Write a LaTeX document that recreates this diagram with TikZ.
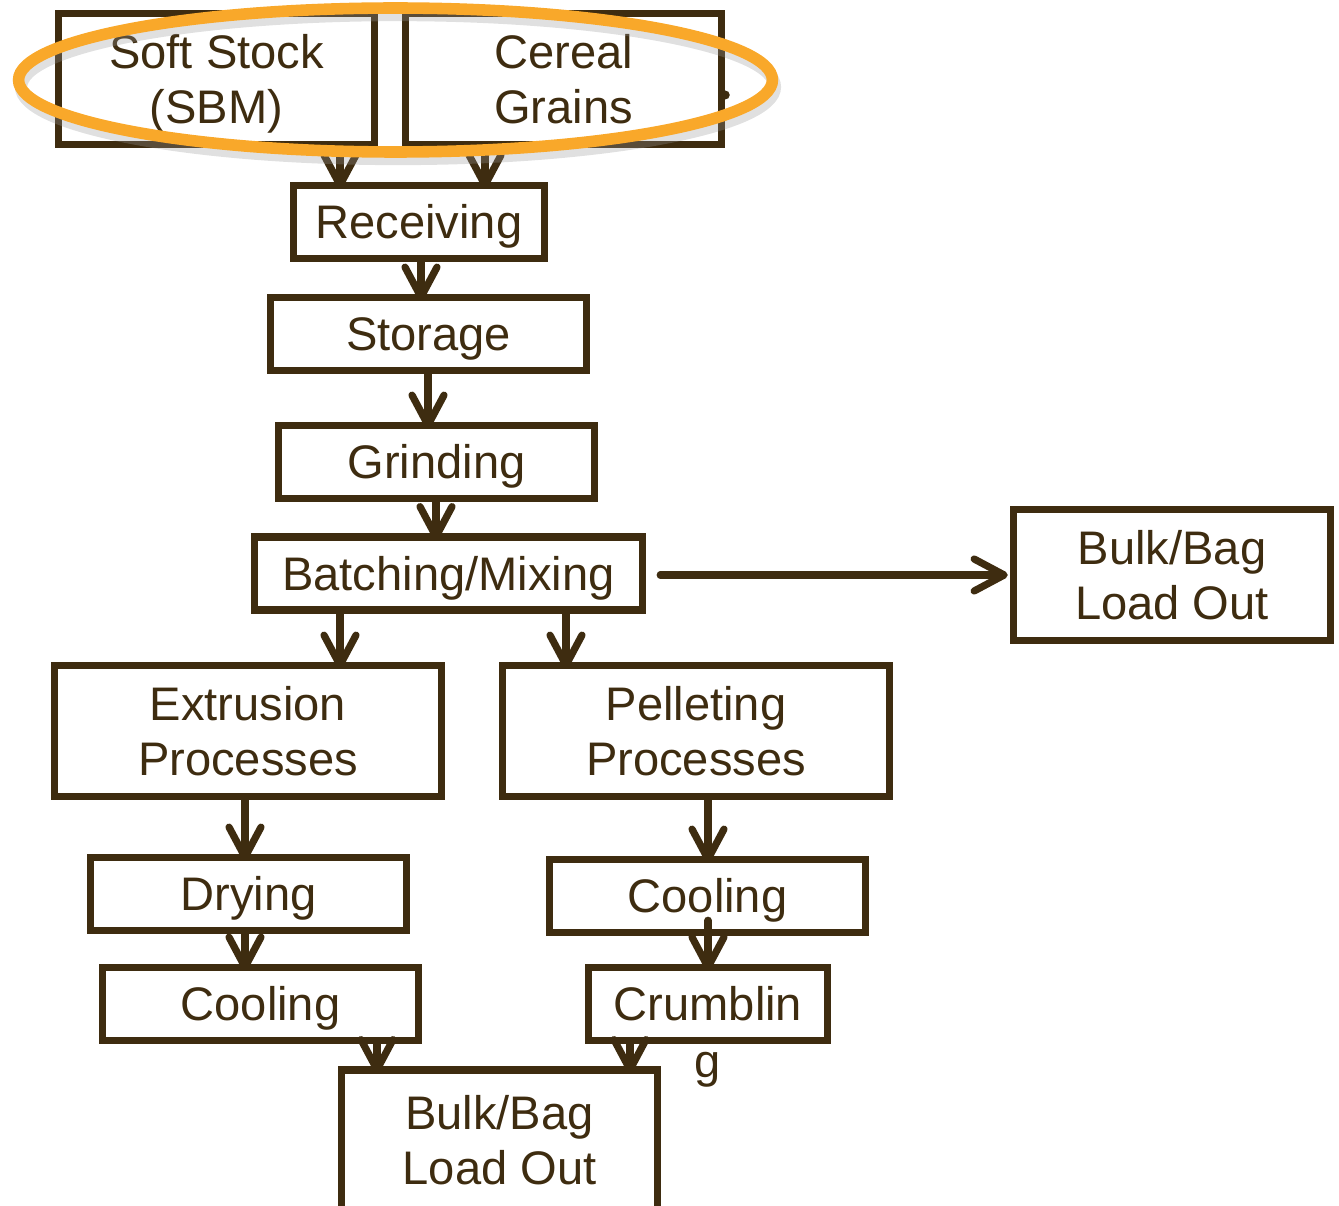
\documentclass[tikz,border=0pt]{standalone}
\usepackage{fontspec}
\setmainfont{Liberation Sans}
\usetikzlibrary{arrows.meta, positioning}
\definecolor{brn}{RGB}{62,44,16}
\definecolor{ring}{RGB}{249,168,42}

\begin{document}
\begin{tikzpicture}[x=0.02cm, y=-0.02cm,
    box/.style={draw=brn, line width=4.3pt, text=brn, align=center, inner sep=0pt,
        font=\fontsize{26.8pt}{31.5pt}\selectfont},
    lift/.style={execute at begin node={\rule{0pt}{#1}},
        execute at end node={\rule[-0.21em]{0pt}{0pt}}},
    wide/.style={box, text height=51pt, text depth=0pt, minimum width=6.32cm, minimum height=2.62cm},
    flat/.style={box, lift=0.93em, minimum width=6.32cm, minimum height=1.46cm},
    flow/.style={draw=brn, line width=4.1pt, line cap=round,
        -{Straight Barb[length=0.6cm, width=0.64cm, round]}, shorten >=-0.14cm}]
    \clip (0,0) rectangle (1339,1206);

    \node[wide] (Soft) at (216.5,79) {Soft Stock\\(SBM)};
    \node[wide] (Cereal) at (563.5,79) {Cereal\\Grains};
    \node[flat, minimum width=5.02cm] (Recv) at (419,222) {Receiving};
    \node[flat] (Stor) at (428.5,334) {Storage};
    \node[flat] (Grind) at (436.5,462) {Grinding};
    \node[flat, minimum width=7.76cm] (Batch) at (448.5,573.5) {Batching/Mixing};
    \node[wide, minimum width=6.34cm] (BulkR) at (1172,575) {Bulk/Bag\\Load Out};
    \node[wide, minimum width=7.74cm] (Extr) at (248,731) {Extrusion\\Processes};
    \node[wide, minimum width=7.74cm] (Pell) at (696,731) {Pelleting\\Processes};
    \node[flat] (Dry) at (248.5,894) {Drying};
    \node[flat] (CoolR) at (707.5,896) {Cooling};
    \node[flat] (CoolL) at (260.5,1004) {Cooling};
    \node[flat, lift=0.81em, minimum width=4.78cm] (Crumb) at (708,1004) {Crumblin};
    \node[text=brn, inner sep=0pt, anchor=base, font=\fontsize{26.8pt}{31.5pt}\selectfont]
        (CrumbG) at (708,1077) {g};
    \node[wide, minimum height=2.8cm] (BulkB) at (499.5,1140) {Bulk/Bag\\Load Out};

    \draw[flow] (Soft.south -| 340,0) -- (Recv.north -| 340,0);
    \draw[flow] (Cereal.south -| 485,0) -- (Recv.north -| 485,0);
    \draw[flow] (Recv.south -| 421,0) -- (Stor.north -| 421,0);
    \draw[flow] (Stor.south -| 428,0) -- (Grind.north -| 428,0);
    \draw[flow] (Grind.south -| 436,0) -- (Batch.north -| 436,0);
    \draw[flow, shorten <=0.28cm, shorten >=0.04cm] (Batch.east |- 0,575) -- (BulkR.west |- 0,575);
    \draw[flow] (Batch.south -| 340,0) -- (Extr.north -| 340,0);
    \draw[flow] (Batch.south -| 566,0) -- (Pell.north -| 566,0);
    \draw[flow] (Extr.south -| 245,0) -- (Dry.north -| 245,0);
    \draw[flow] (Pell.south -| 708,0) -- (CoolR.north -| 708,0);
    \draw[flow] (Dry.south -| 245,0) -- (CoolL.north -| 245,0);
    \draw[flow, shorten <=-0.32cm] (CoolR.south -| 708,0) -- (Crumb.north -| 708,0);
    \draw[flow] (CoolL.south -| 377,0) -- (BulkB.north -| 377,0);
    \draw[flow] (Crumb.south -| 630,0) -- (BulkB.north -| 630,0);

    % small mark on the edge of the grain box
    \fill[brn] (Cereal.east |- 0,95) circle (0.09cm);

    % highlight ring over the two raw materials
    \draw[black!40, line width=7pt, opacity=0.3] (398,87) ellipse [x radius=7.54cm, y radius=1.44cm];
    \draw[ring, line width=6.6pt] (395.5,80) ellipse [x radius=7.54cm, y radius=1.44cm];
\end{tikzpicture}
\end{document}
